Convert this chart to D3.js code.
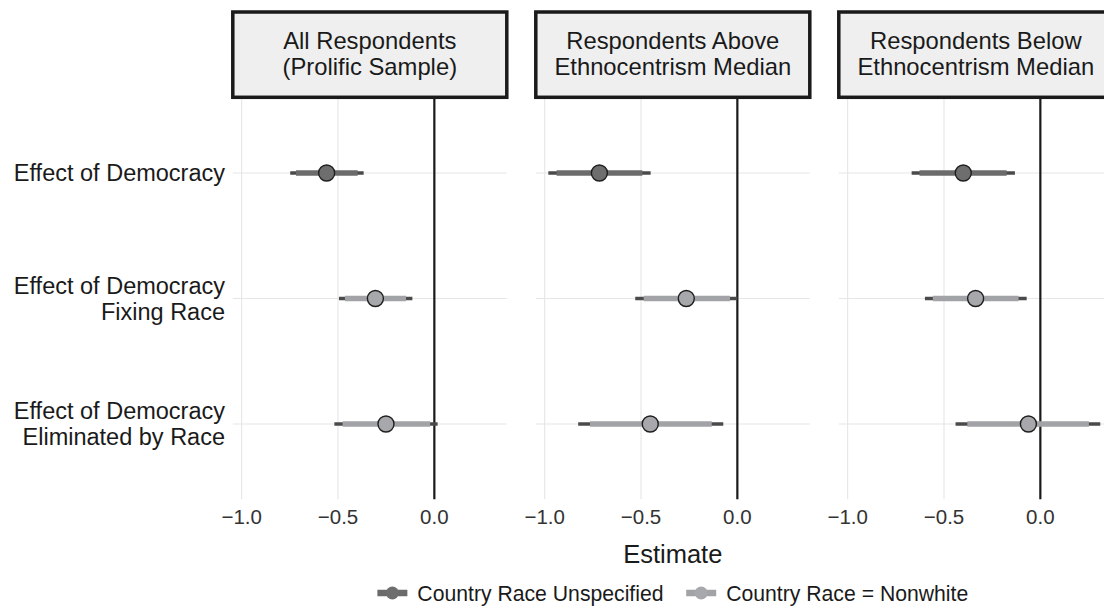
<!DOCTYPE html>
<html>
<head>
<meta charset="utf-8">
<script src="https://cdn.jsdelivr.net/npm/d3@7"></script>
<style>
  body { margin: 0; background: #fff; }
  svg { display: block; font-family: "Liberation Sans", Arial, Helvetica, sans-serif; }
</style>
</head>
<body>
<svg width="1104" height="607"></svg>
<script>
var panelTitles = [
    ['All Respondents', '(Prolific Sample)'],
    ['Respondents Above', 'Ethnocentrism Median'],
    ['Respondents Below', 'Ethnocentrism Median']
];
var terms = ['dem', 'fix', 'elim'];
var termLabels = [
    ['Effect of Democracy'],
    ['Effect of Democracy', 'Fixing Race'],
    ['Effect of Democracy', 'Eliminated by Race']
];
var seriesNames = ['Country Race Unspecified', 'Country Race = Nonwhite'];
var termSeries = [0, 1, 1];
var xTicks = [-1.0, -0.5, 0.0];

// one array per panel, one value per term
var estimate = [[-0.559, -0.306, -0.251], [-0.716, -0.265, -0.452], [-0.400, -0.336, -0.062]];
var lo90 = [[-0.718, -0.464, -0.476], [-0.938, -0.486, -0.765], [-0.627, -0.558, -0.379]];
var hi90 = [[-0.398, -0.147, -0.022], [-0.493, -0.038, -0.133], [-0.175, -0.113, 0.252]];
var lo95 = [[-0.748, -0.495, -0.519], [-0.981, -0.530, -0.826], [-0.668, -0.599, -0.440]];
var hi95 = [[-0.367, -0.114, 0.017], [-0.450, 0.000, -0.073], [-0.132, -0.071, 0.311]];

var seriesThick = ['#6b6b6b', '#a1a3a6'];
var seriesPoint = ['#6e6e6e', '#a6a8ab'];
var thinColor = '#4a4a4a';

var svg = d3.select('svg');
var panelW = 274;
var panelGap = 29;
var panelLeft = 232.8;
var plotTop = 97.7, plotBottom = 499.3;

var x = d3.scaleLinear().domain([-1.046, 0.376]).range([0, panelW]);
var y = d3.scalePoint().domain(terms).range([plotTop, plotBottom]).padding(0.6);

// y axis labels
var ylab = svg.append('g')
    .attr('font-size', 23.5)
    .attr('fill', '#1a1a1a')
    .attr('text-anchor', 'end');
terms.forEach((t, i) => {
    var lines = termLabels[i];
    var lh = 26;
    var y0 = y(t) - (lines.length - 1) * lh / 2;
    var txt = ylab.append('text');
    lines.forEach((l, j) => {
        txt.append('tspan').attr('x', 225).attr('y', y0 + j * lh).attr('dy', '0.36em').text(l);
    });
});

panelTitles.forEach((title, p) => {
    var g = svg.append('g')
        .attr('transform', 'translate(' + (panelLeft + p * (panelW + panelGap)) + ',0)');

    // grid
    g.selectAll('.vgrid').data(xTicks).enter().append('line')
        .attr('x1', d => x(d)).attr('x2', d => x(d))
        .attr('y1', plotTop).attr('y2', plotBottom)
        .attr('stroke', '#e6e6e6').attr('stroke-width', 1.1);
    g.selectAll('.hgrid').data(terms).enter().append('line')
        .attr('x1', 0).attr('x2', panelW)
        .attr('y1', d => y(d)).attr('y2', d => y(d))
        .attr('stroke', '#e6e6e6').attr('stroke-width', 1.1);

    g.append('line')
        .attr('x1', x(0)).attr('x2', x(0))
        .attr('y1', plotTop).attr('y2', plotBottom)
        .attr('stroke', '#1a1a1a').attr('stroke-width', 2.2);

    var rows = terms.map((t, i) => ({
        term: t, s: termSeries[i], est: estimate[p][i],
        lo90: lo90[p][i], hi90: hi90[p][i], lo95: lo95[p][i], hi95: hi95[p][i]
    }));

    g.selectAll('.thin').data(rows).enter().append('line')
        .attr('x1', d => x(d.lo95)).attr('x2', d => x(d.hi95))
        .attr('y1', d => y(d.term)).attr('y2', d => y(d.term))
        .attr('stroke', thinColor).attr('stroke-width', 3.4);
    g.selectAll('.thick').data(rows).enter().append('line')
        .attr('x1', d => x(d.lo90)).attr('x2', d => x(d.hi90))
        .attr('y1', d => y(d.term)).attr('y2', d => y(d.term))
        .attr('stroke', d => seriesThick[d.s]).attr('stroke-width', 5.6);
    g.selectAll('.pt').data(rows).enter().append('circle')
        .attr('cx', d => x(d.est)).attr('cy', d => y(d.term))
        .attr('r', 8)
        .attr('fill', d => seriesPoint[d.s])
        .attr('stroke', '#1f1f1f').attr('stroke-width', 1.4);

    // strip
    g.append('rect')
        .attr('x', 0).attr('y', 12)
        .attr('width', panelW).attr('height', 85.3)
        .attr('fill', '#efefef')
        .attr('stroke', '#1a1a1a').attr('stroke-width', 3.5);
    var st = g.append('text')
        .attr('font-size', 23.8)
        .attr('fill', '#1a1a1a')
        .attr('text-anchor', 'middle');
    title.forEach((l, j) => {
        st.append('tspan').attr('x', panelW / 2).attr('y', 48.7 + j * 26).text(l);
    });

    // ticks
    g.selectAll('.tick').data(xTicks).enter().append('text')
        .attr('x', d => x(d)).attr('y', 524.3)
        .attr('text-anchor', 'middle')
        .attr('font-size', 20.5)
        .attr('fill', '#333')
        .text(d => d3.format('.1f')(d).replace('-', '\u2212'));
});

var plotCenter = panelLeft + (3 * panelW + 2 * panelGap) / 2;

svg.append('text')
    .attr('x', plotCenter).attr('y', 563)
    .attr('text-anchor', 'middle')
    .attr('font-size', 25.5)
    .attr('fill', '#1a1a1a')
    .text('Estimate');

// legend
var legend = svg.append('g');
var keyW = 30, keyGap = 10, itemGap = 22.7, ly = 593;
var items = seriesNames.map((name, i) => {
    var it = legend.append('g');
    it.append('line')
        .attr('x1', 0).attr('x2', keyW).attr('y1', ly).attr('y2', ly)
        .attr('stroke', seriesThick[i]).attr('stroke-width', 6.5);
    it.append('circle')
        .attr('cx', keyW / 2).attr('cy', ly).attr('r', 6.5)
        .attr('fill', seriesPoint[i]);
    var t = it.append('text')
        .attr('x', keyW + keyGap).attr('y', ly).attr('dy', '0.36em')
        .attr('font-size', 21.2)
        .attr('fill', '#1a1a1a')
        .text(name);
    return { g: it, w: keyW + keyGap + t.node().getComputedTextLength() };
});
var total = d3.sum(items, d => d.w) + itemGap * (items.length - 1);
var lx = plotCenter - total / 2;
items.forEach(d => {
    d.g.attr('transform', 'translate(' + lx + ',0)');
    lx += d.w + itemGap;
});
</script>
</body>
</html>
